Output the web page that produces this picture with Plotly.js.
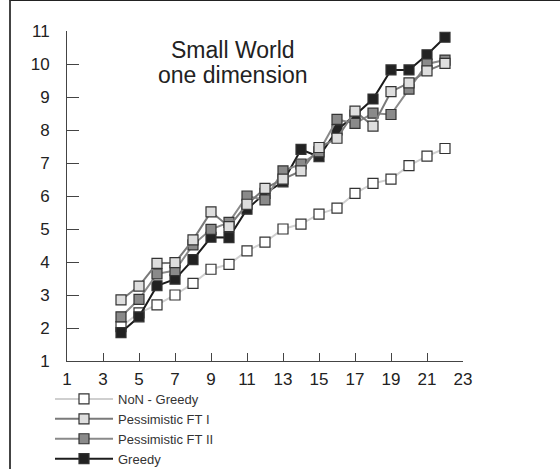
<!DOCTYPE html>
<html>
<head>
<meta charset="utf-8">
<script src="https://cdn.plot.ly/plotly-3.0.1.min.js"></script>
<style>
html,body{margin:0;padding:0;background:#fff;}
#wrap{position:relative;width:560px;height:469px;overflow:hidden;}
#chart{width:560px;height:469px;}
#frame{position:absolute;left:9px;top:0;width:560px;height:469px;border-left:2px solid #444;border-top:1px solid #222;pointer-events:none;}
</style>
</head>
<body>
<div id="wrap"><div id="chart"></div><div id="frame"></div></div>
<script>
// ---- data ----
var hops = [4,5,6,7,8,9,10,11,12,13,14,15,16,17,18,19,20,21,22];
var nonGreedy = [2.04,2.46,2.70,3.00,3.35,3.78,3.93,4.34,4.60,5.00,5.15,5.45,5.63,6.08,6.38,6.51,6.92,7.21,7.44];
var pessFT1 = [2.85,3.27,3.96,3.98,4.67,5.52,5.07,5.75,6.23,6.51,6.76,7.47,7.75,8.57,8.12,9.16,9.43,9.79,10.02];
var pessFT2 = [2.34,2.87,3.64,3.74,4.52,4.99,5.20,6.00,5.88,6.76,6.97,7.34,8.32,8.20,8.51,8.47,9.24,10.00,10.12];
var greedy  = [1.86,2.34,3.28,3.48,4.07,4.75,4.74,5.60,6.08,6.43,7.41,7.19,8.00,8.45,8.94,9.82,9.82,10.28,10.81];
var seriesNames = ["NoN - Greedy","Pessimistic FT I","Pessimistic FT II","Greedy"];
var xTicks = [1,3,5,7,9,11,13,15,17,19,21,23];
var yTicks = [1,2,3,4,5,6,7,8,9,10,11];

var FONT = "Liberation Sans, Arial, Helvetica, sans-serif";
function tr(name, y, fill, lineColor, rank) {
  return {
    type: "scatter", mode: "lines+markers", name: name, x: hops, y: y,
    legendrank: rank,
    line: {color: lineColor, width: 2},
    marker: {symbol: "square", size: 10, color: fill, line: {color: "#333", width: 1.2}}
  };
}
// draw order: NoN, Greedy, FT II, FT I (FT I on top)
var data = [
  tr(seriesNames[0], nonGreedy, "#ffffff", "#cfcfcf", 1),
  tr(seriesNames[3], greedy, "#222222", "#1c1c1c", 4),
  tr(seriesNames[2], pessFT2, "#8a8a8a", "#8a8a8a", 3),
  tr(seriesNames[1], pessFT1, "#dedede", "#7a7a7a", 2)
];

var layout = {
  width: 560, height: 469,
  margin: {l: 67, r: 97, t: 31, b: 108, pad: 0, autoexpand: false},
  paper_bgcolor: "#fff", plot_bgcolor: "#fff",
  font: {family: FONT, color: "#222"},
  showlegend: true,
  legend: {
    xref: "container", yref: "container",
    x: 50/560, y: 1 - 384/469, xanchor: "left", yanchor: "top",
    font: {family: FONT, size: 13, color: "#333"},
    bgcolor: "rgba(0,0,0,0)", borderwidth: 0,
    itemwidth: 58, tracegroupgap: 0
  },
  xaxis: {
    range: [1, 23], tickvals: xTicks, ticktext: xTicks.map(String),
    ticks: "inside", ticklen: 8, tickwidth: 1, tickcolor: "#444",
    showline: true, linecolor: "#444", linewidth: 1,
    showgrid: false, zeroline: false, fixedrange: true,
    ticklabelstandoff: 3,
    tickfont: {family: FONT, size: 17, color: "#222"}
  },
  yaxis: {
    range: [1, 11], tickvals: yTicks, ticktext: yTicks.map(String),
    ticks: "inside", ticklen: 12, tickwidth: 1, tickcolor: "#444",
    showline: true, linecolor: "#444", linewidth: 1,
    showgrid: false, zeroline: false, fixedrange: true,
    ticklabelstandoff: 13,
    tickfont: {family: FONT, size: 17, color: "#222"}
  },
  annotations: [
    {text: "Small World", xref: "paper", yref: "paper", x: 0.419, y: 0.942,
     xanchor: "center", yanchor: "middle", showarrow: false,
     font: {family: FONT, size: 23, color: "#222"}},
    {text: "one dimension", xref: "paper", yref: "paper", x: 0.419, y: 0.867,
     xanchor: "center", yanchor: "middle", showarrow: false,
     font: {family: FONT, size: 23, color: "#222"}}
  ]
};

Plotly.newPlot("chart", data, layout, {staticPlot: true, displayModeBar: false});
</script>
</body>
</html>
